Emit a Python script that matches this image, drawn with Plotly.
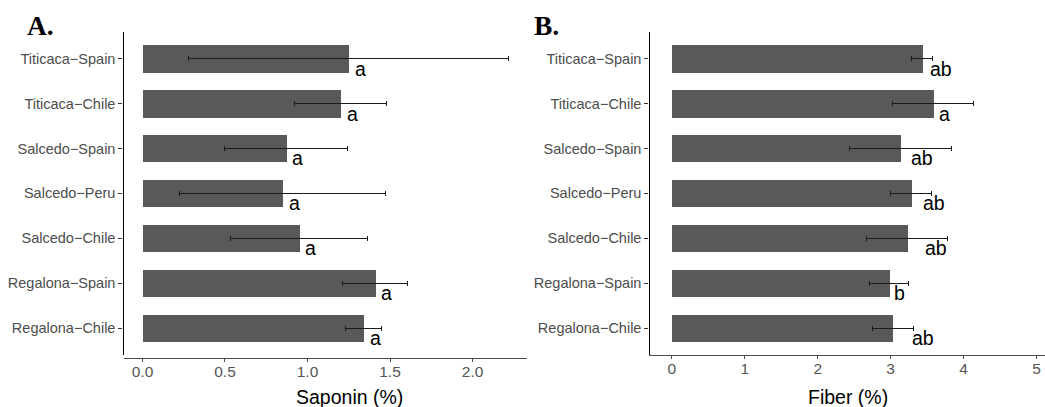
import plotly.graph_objects as go

# Cultivar–origin groups, listed bottom to top
categories = ["Regalona−Chile", "Regalona−Spain", "Salcedo−Chile", "Salcedo−Peru",
              "Salcedo−Spain", "Titicaca−Chile", "Titicaca−Spain"]

# Saponin content (%): mean and standard deviation, with significance groups
saponin_mean = [1.34, 1.41, 0.95, 0.85, 0.87, 1.20, 1.25]
saponin_sd = [0.11, 0.195, 0.415, 0.625, 0.375, 0.28, 0.97]
saponin_group = ["a", "a", "a", "a", "a", "a", "a"]

# Fiber content (%): mean and standard deviation, with significance groups
fiber_mean = [3.03, 2.98, 3.23, 3.28, 3.13, 3.58, 3.43]
fiber_sd = [0.28, 0.265, 0.555, 0.28, 0.70, 0.56, 0.14]
fiber_group = ["ab", "b", "ab", "ab", "ab", "a", "ab"]

saponin_ticks = [0, 0.5, 1.0, 1.5, 2.0]
saponin_ticktext = ["0.0", "0.5", "1.0", "1.5", "2.0"]
fiber_ticks = [0, 1, 2, 3, 4, 5]

W, H = 1045, 407
BAR = "#595959"
SANS = "Liberation Sans, Arial, sans-serif"
SERIF = "Liberation Serif, Times New Roman, serif"

# horizontal gaps (px) between bar ends and the group letters
saponin_gap = [5] * 7
fiber_gap = [18, 4, 17, 11, 10, 5, 7]


def px_x(p):
    return p / W


def px_y(p):
    return 1 - p / H


fig = go.Figure()

err_style = dict(type="data", color="#1a1a1a", thickness=1, width=2.5)

fig.add_trace(go.Bar(
    x=saponin_mean, y=categories, orientation="h", width=0.61,
    marker=dict(color=BAR, line=dict(width=0)),
    error_x=dict(array=saponin_sd, **err_style),
    xaxis="x", yaxis="y", showlegend=False,
))
fig.add_trace(go.Bar(
    x=fiber_mean, y=categories, orientation="h", width=0.61,
    marker=dict(color=BAR, line=dict(width=0)),
    error_x=dict(array=fiber_sd, **err_style),
    xaxis="x2", yaxis="y2", showlegend=False,
))

annotations = []
for xr, yr, means, groups, gaps in [("x", "y", saponin_mean, saponin_group, saponin_gap),
                                    ("x2", "y2", fiber_mean, fiber_group, fiber_gap)]:
    for cat, m, g, gap in zip(categories, means, groups, gaps):
        annotations.append(dict(
            x=m, y=cat, xref=xr, yref=yr, text=g, showarrow=False,
            xanchor="left", yanchor="middle", xshift=gap - 1, yshift=-10,
            font=dict(family=SANS, size=19.5, color="black"),
        ))

# axis titles
annotations.append(dict(x=px_x(349.5), y=px_y(396.5), xref="paper", yref="paper",
                        text="Saponin (%)", showarrow=False, xanchor="center", yanchor="middle",
                        font=dict(family=SANS, size=19.5, color="black")))
annotations.append(dict(x=px_x(848), y=px_y(396.5), xref="paper", yref="paper",
                        text="Fiber (%)", showarrow=False, xanchor="center", yanchor="middle",
                        font=dict(family=SANS, size=19.5, color="black")))
# panel tags
annotations.append(dict(x=px_x(25), y=px_y(26), xref="paper", yref="paper",
                        text="<b>A.</b>", showarrow=False, xanchor="left", yanchor="middle",
                        font=dict(family=SERIF, size=27.5, color="black")))
annotations.append(dict(x=px_x(532), y=px_y(26), xref="paper", yref="paper",
                        text="<b>B.</b>", showarrow=False, xanchor="left", yanchor="middle",
                        font=dict(family=SERIF, size=27.5, color="black")))

y_dom = [px_y(355), px_y(31.7)]

yaxis_common = dict(
    type="category", categoryorder="array", categoryarray=categories,
    range=[-0.6, 6.6], domain=y_dom,
    showline=True, linecolor="black", linewidth=1.3,
    ticks="outside", ticklen=4, tickcolor="#333333", tickwidth=1,
    tickfont=dict(family=SANS, size=14.5, color="#4d4d4d"),
    showgrid=False, zeroline=False, fixedrange=True,
)
xaxis_common = dict(
    showline=True, linecolor="#4d4d4d", linewidth=1,
    ticks="outside", ticklen=3, tickcolor="#4d4d4d", tickwidth=1,
    ticklabelstandoff=-4,
    tickfont=dict(family=SANS, size=15.5, color="#555555"),
    showgrid=False, zeroline=False,
)

fig.update_layout(
    width=W, height=H,
    margin=dict(l=0, r=0, t=0, b=0),
    paper_bgcolor="white", plot_bgcolor="white",
    bargap=0,
    xaxis=dict(domain=[px_x(123.5), px_x(527)], range=[-0.115, 2.33],
               tickvals=saponin_ticks, ticktext=saponin_ticktext,
               anchor="free", position=px_y(358), **xaxis_common),
    yaxis=dict(anchor="x", **yaxis_common),
    xaxis2=dict(domain=[px_x(649.5), 1.0], range=[-0.304, 5.114],
                tickvals=fiber_ticks, anchor="y2", **xaxis_common),
    yaxis2=dict(anchor="x2", **yaxis_common),
    annotations=annotations,
)

fig.write_html("out.html")
